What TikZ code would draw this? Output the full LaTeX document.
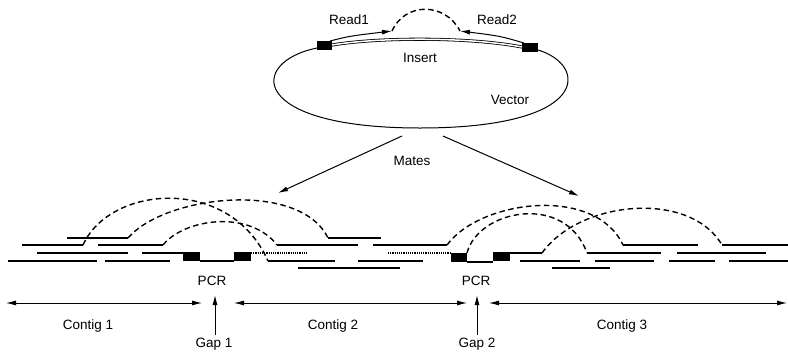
\documentclass[tikz,border=0pt]{standalone}
\usepackage{fontspec}
\setmainfont{Liberation Sans}
\usetikzlibrary{arrows.meta}
\begin{document}
\begin{tikzpicture}[x=1pt,y=-1pt,
  readln/.style={line width=1.3pt},
  dotln/.style={line width=1.2pt, densely dotted},
  mate/.style={line width=1.4pt, dash pattern=on 5.5pt off 3.5pt},
  blk/.style={fill=black},
  lbl/.style={font=\fontsize{13.5}{15}\selectfont, inner sep=0pt},
  arr/.style={-{Latex[length=10pt,width=5pt]}, line width=1pt},
  darr/.style={{Latex[length=10pt,width=5pt]}-{Latex[length=10pt,width=5pt]}, line width=0.9pt}]
\useasboundingbox (0,0) rectangle (788,354);

% ---------- vector with insert ----------
\fill[blk] (317,41) rectangle (332,50);
\fill[blk] (522,43) rectangle (538,52);
\draw[line width=1pt] (317,48) .. controls (248,62) and (248,128) .. (420,128)
      .. controls (592,128) and (588,65) .. (538,50);
\draw[line width=0.8pt, double, double distance=1.5pt] (332,45) .. controls (380,37) and (470,37) .. (522,47);
\coordinate (r1s) at (330,41);
\coordinate (r1e) at (392,31);
\coordinate (r2s) at (524,43);
\coordinate (r2e) at (460,31);
\draw[arr] (r1s) .. controls (350,36) .. (r1e);
\draw[arr] (r2s) .. controls (500,36) .. (r2e);
\draw[mate] (r1e) .. controls (405,2) and (445,2) .. (r2e);
\node[lbl] (read1) at (349,20) {Read1};
\node[lbl] (read2) at (497,20) {Read2};
\node[lbl] (insert) at (420,58) {Insert};
\node[lbl] (vector) at (510,100) {Vector};

% ---------- mates arrows ----------
\node[lbl] (mates) at (412,161) {Mates};
\coordinate (mL0) at (402,136);
\coordinate (mL1) at (278,193);
\coordinate (mR0) at (443,136);
\coordinate (mR1) at (579,196);
\draw[arr] (mL0) -- (mL1);
\draw[arr] (mR0) -- (mR1);

% ---------- reads, left cluster ----------
\draw[readln] (67,238) -- (128,238);  \draw[readln] (328,238) -- (381,238);
\draw[readln] (22,245) -- (83,245);   \draw[readln] (98,245) -- (163,245);
\draw[readln] (277,245) -- (358,245); \draw[readln] (373,245) -- (447,245);
\draw[readln] (37,253) -- (128,253);  \draw[readln] (142,253) -- (185,253);
\draw[dotln] (251,253) -- (307,253);  \draw[dotln] (388,253) -- (451,253);
\draw[readln] (8,261) -- (97,261);    \draw[readln] (105,261) -- (170,261);
\draw[readln] (268,261) -- (335,261); \draw[readln] (358,261) -- (423,261);
\draw[readln] (298,268) -- (400,268);
% PCR 1
\fill[blk] (183,252) rectangle (200,261);
\fill[blk] (234,252) rectangle (251,261);
\draw[readln] (200,261) -- (234,261);
% mate links
\draw[mate] (83,245) .. controls (110,185) and (230,175) .. (268,261);
\draw[mate] (128,238) .. controls (165,195) and (300,180) .. (328,238);
\draw[mate] (163,245) .. controls (185,218) and (250,210) .. (277,245);

% ---------- reads, right cluster ----------
\draw[readln] (623,245) -- (698,245); \draw[readln] (722,245) -- (788,245);
\draw[readln] (510,253) -- (542,253); \draw[readln] (587,253) -- (661,253);
\draw[readln] (677,253) -- (766,253);
\draw[readln] (520,261) -- (580,261); \draw[readln] (595,261) -- (654,261);
\draw[readln] (669,261) -- (715,261); \draw[readln] (729,261) -- (788,261);
\draw[readln] (552,268) -- (610,268);
% PCR 2
\fill[blk] (451,253) rectangle (467,262);
\fill[blk] (493,252) rectangle (510,261);
\draw[readln] (467,262) -- (493,262);
% mate links
\draw[mate] (447,245) .. controls (480,200) and (595,185) .. (623,245);
\draw[mate] (467,253) .. controls (478,210) and (565,192) .. (587,253);
\draw[mate] (542,253) .. controls (580,200) and (690,190) .. (722,245);

% ---------- labels and contig arrows ----------
\node[lbl] (pcr1) at (212,281) {PCR};
\node[lbl] (pcr2) at (476,281) {PCR};
\coordinate (c1a) at (6,303);   \coordinate (c1b) at (202,303);
\coordinate (c2a) at (234,303); \coordinate (c2b) at (467,303);
\coordinate (c3a) at (489,303); \coordinate (c3b) at (787,303);
\draw[darr] (c1a) -- (c1b);
\draw[darr] (c2a) -- (c2b);
\draw[darr] (c3a) -- (c3b);
\node[lbl] (contig1) at (88,326) {Contig 1};
\node[lbl] (contig2) at (333,326) {Contig 2};
\node[lbl] (contig3) at (622,326) {Contig 3};
\node[lbl] (gap1) at (214,344) {Gap 1};
\node[lbl] (gap2) at (477,344) {Gap 2};
\coordinate (g1t) at (215,295);
\coordinate (g2t) at (477,295);
\draw[arr] (gap1.north -| g1t) ++(0,-3) -- (g1t);
\draw[arr] (gap2.north -| g2t) ++(0,-3) -- (g2t);
\end{tikzpicture}
\end{document}
